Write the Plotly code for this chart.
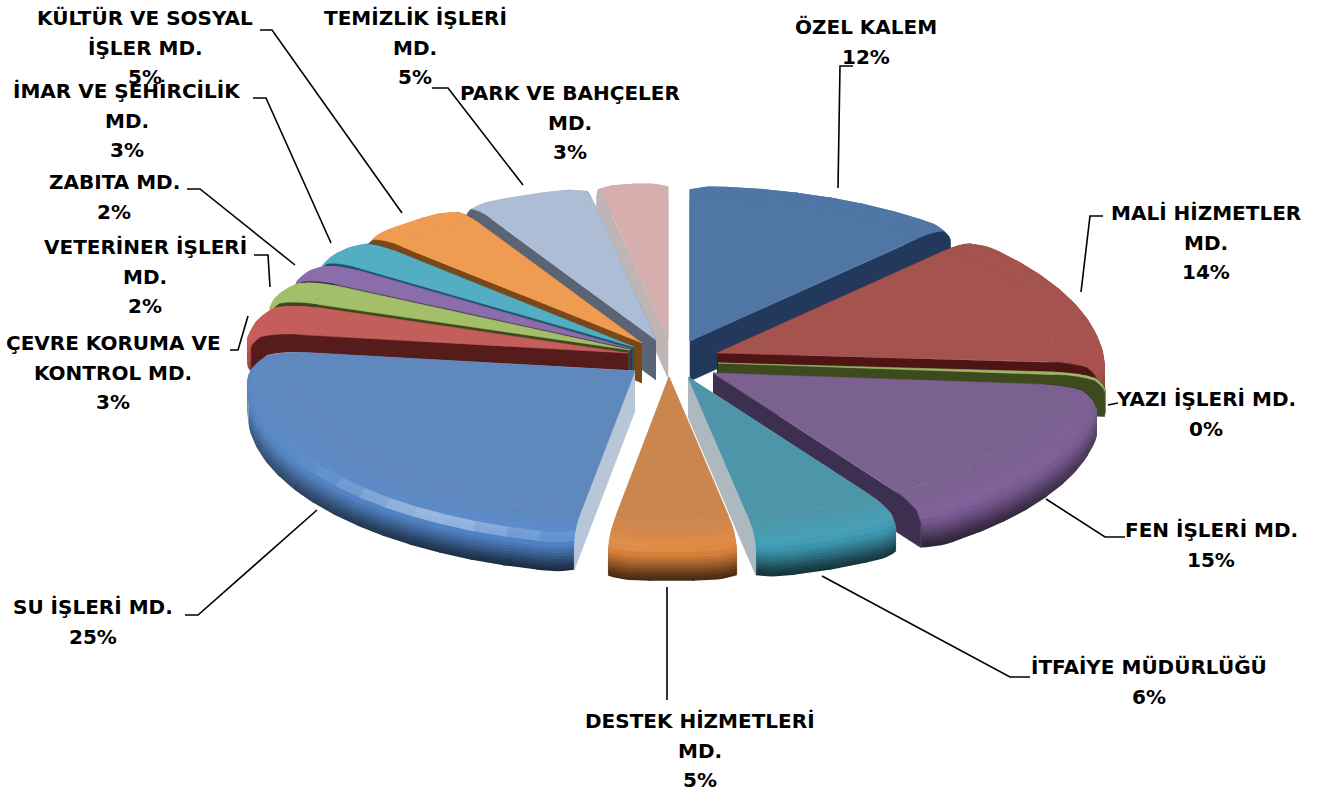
import math
import plotly.graph_objects as go

# ---- data, clockwise from 12 o'clock
categories = ["ÖZEL KALEM", "MALİ HİZMETLER MD.", "YAZI İŞLERİ MD.", "FEN İŞLERİ MD.", "İTFAİYE MÜDÜRLÜĞÜ",
              "DESTEK HİZMETLERİ MD.", "SU İŞLERİ MD.", "ÇEVRE KORUMA VE KONTROL MD.", "VETERİNER İŞLERİ MD.",
              "ZABITA MD.", "İMAR VE ŞEHİRCİLİK MD.", "KÜLTÜR VE SOSYAL İŞLER MD.", "TEMİZLİK İŞLERİ MD.",
              "PARK VE BAHÇELER MD."]
values = [12.0, 14.0, 0.3, 14.5, 6.35, 5.4, 24.55, 3.2, 2.3, 1.9, 2.6, 4.6, 5.3, 3.0]

# ---- style
top_colors = ["#4f76a5", "#a5534f", "#9cb56a", "#7a618f", "#4d95a8", "#cb864e", "#5f88bd",
              "#c45e5a", "#a3bf6a", "#8b6dab", "#53aec4", "#f09b52", "#aebdd6", "#d6aeae"]
wall_colors = ["#23395b", "#4f1414", "#3d4a1d", "#3d2f4f", "#aeb9bf", "#a8906f", "#b7c6d9",
               "#561c1c", "#3d4a1d", "#3d2f4f", "#1f5566", "#7a4716", "#5a6474", "#bfb5b5"]
explode_x = [25, 52, 53, 48, 23, 4, -30, -37, -35, -33, -31, -23, -9, 3]
explode_y = [-19, -7, 3, 13, 17, 17, 11, -7, -10, -11, -13, -17, -20, -22]
label_lines = [
    ["ÖZEL KALEM", "12%"], ["MALİ HİZMETLER", "MD.", "14%"], ["YAZI İŞLERİ MD.", "0%"],
    ["FEN İŞLERİ MD.", "15%"], ["İTFAİYE MÜDÜRLÜĞÜ", "6%"], ["DESTEK HİZMETLERİ", "MD.", "5%"],
    ["SU İŞLERİ MD.", "25%"], ["ÇEVRE KORUMA VE", "KONTROL MD.", "3%"], ["VETERİNER İŞLERİ", "MD.", "2%"],
    ["ZABITA MD.", "2%"], ["İMAR VE ŞEHİRCİLİK", "MD.", "3%"], ["KÜLTÜR VE SOSYAL", "İŞLER MD.", "5%"],
    ["TEMİZLİK İŞLERİ", "MD.", "5%"], ["PARK VE BAHÇELER", "MD.", "3%"]]
label_cx = [866, 1206, 1206, 1211, 1149, 700, 93, 113, 145, 114, 127, 145, 415, 570]
label_y0 = [27, 213, 399, 530, 667, 721, 607, 343, 247, 182, 91, 18, 18, 93]
leader_x = [[853, 840, 838], [1103, 1090, 1081], [1118, 1108], [1125, 1105, 1046], [1030, 1010, 822], [667, 667],
            [185, 198, 317], [230, 238, 248], [254, 268, 270], [187, 200, 295], [253, 266, 331], [260, 272, 402],
            [432, 448, 523], []]
leader_y = [[66, 66, 188], [216, 216, 292], [403, 405], [537, 537, 499], [677, 677, 576], [700, 587],
            [615, 615, 510], [350, 350, 316], [255, 255, 287], [189, 189, 265], [98, 98, 243], [30, 30, 213],
            [88, 88, 185], []]

CX, CY = 665, 360
RX, RY = 388, 164
DEPTH = 40
CORNER_CUT, CORNER_SPAN = 0.02, 0.07
SECTOR = math.radians(5)
OVERLAP = 0.006
# rounded rim: radius fraction, drop in px, shade (negative = toward black, positive = toward white)
profile_r = [0.87, 0.90, 0.93, 0.955, 0.975, 0.985, 0.995, 1.0, 1.0, 1.0, 1.0, 1.0, 1.0, 1.0, 1.0, 1.0, 1.0]
profile_z = [0, 0.5, 1.5, 3, 5, 8, 12, 16, 19, 22, 25, 28, 30.5, 33, 35.5, 38, 40]
profile_s = [0.0, 0.01, 0.02, 0.03, 0.05, 0.06, 0.0, -0.08, -0.15, -0.23, -0.31, -0.40, -0.48, -0.55, -0.61,
             -0.66, -0.70]
RIM_SATURATION = 0.3
SATURATION_RAMP = 4
HILITE_BANDS, HILITE_DEG, HILITE_WIDTH, HILITE_GAIN = (4, 5), 212, 16, 0.36


def shade(hexcol, s, sat=1.0):
    rgb = [int(hexcol[i:i + 2], 16) for i in (1, 3, 5)]
    mean = sum(rgb) / 3
    rgb = [min(255, max(0, mean + (c - mean) * sat)) for c in rgb]
    target = 255 if s > 0 else 0
    rgb = [round(c + (target - c) * abs(s)) for c in rgb]
    return "rgb({},{},{})".format(*rgb)


def poly(xs, ys, color, edge=0.6):
    return go.Scatter(x=xs, y=ys, mode="lines", fill="toself", fillcolor=color,
                      line=dict(color=color, width=edge), hoverinfo="skip", showlegend=False)


def corner_factor(a, a0, a1):
    if a1 - a0 < 0.1:
        return 1.0
    span = min(CORNER_SPAN, (a1 - a0) / 2)
    g = max(0.0, 1 - max(0.0, min(a - a0, a1 - a)) / span)
    return 1 - CORNER_CUT * g * g


def arc(ax, ay, lo, hi, a0, a1, r, z):
    steps = max(3, int(70 * (hi - lo)) + 2)
    angs = [lo + (hi - lo) * i / (steps - 1) for i in range(steps)]
    rs = [r * corner_factor(a, a0, a1) for a in angs]
    return ([ax + RX * q * math.sin(a) for a, q in zip(angs, rs)],
            [ay - RY * q * math.cos(a) + z for a, q in zip(angs, rs)])


def wall(ax, ay, a, a0, a1, color):
    q = corner_factor(a, a0, a1)
    xs = [ax] + [ax + RX * r * q * math.sin(a) for r in profile_r] + [ax]
    ys = [ay] + [ay - RY * r * q * math.cos(a) + z for r, z in zip(profile_r, profile_z)] + [ay + DEPTH]
    return poly(xs, ys, color)


def light(a):
    return max(0.0, -math.cos(a) + 0.3) / 1.3


def lit(s, a, band):
    front = -math.cos(a)
    if s > 0:
        s *= light(a)
    else:
        s *= 0.3 + 0.7 * max(0.0, front) ** 0.7
    if band in HILITE_BANDS:
        s += HILITE_GAIN * math.exp(-((math.degrees(a) - HILITE_DEG) / HILITE_WIDTH) ** 2)
    return s


fig = go.Figure()
total = sum(values)
edges = [0]
for v in values:
    edges.append(edges[-1] + v / total * 2 * math.pi)

order = sorted(range(len(values)), key=lambda i: -math.cos((edges[i] + edges[i + 1]) / 2))
for i in order:
    a0, a1 = edges[i], edges[i + 1]
    ax, ay = CX + explode_x[i], CY + explode_y[i]
    base = top_colors[i]
    start_seen = math.sin(a0) < -1e-6
    end_seen = math.sin(a1) > 1e-6
    if not start_seen:
        fig.add_trace(wall(ax, ay, a0, a0, a1, wall_colors[i]))
    if not end_seen:
        fig.add_trace(wall(ax, ay, a1, a0, a1, wall_colors[i]))
    # rim bands split into short sectors so the light can change round the pie, lowest band first;
    # each band reaches up under the one above it so no seam opens between them
    n_sec = max(1, int((a1 - a0) / SECTOR))
    for k in range(len(profile_r) - 2, -1, -1):
        up = max(k - 1, 0)
        for m in range(n_sec):
            lo = a0 + (a1 - a0) * m / n_sec
            hi = min(a1, a0 + (a1 - a0) * (m + 1) / n_sec + OVERLAP)
            mid = a0 + (a1 - a0) * (m + 0.5) / n_sec
            x1, y1 = arc(ax, ay, lo, hi, a0, a1, profile_r[up], profile_z[up])
            x2, y2 = arc(ax, ay, lo, hi, a0, a1, profile_r[k + 1], profile_z[k + 1])
            s = lit((profile_s[k] + profile_s[k + 1]) / 2, mid, k)
            sat = 1 + RIM_SATURATION * light(mid) * min(1.0, k / SATURATION_RAMP)
            fig.add_trace(poly(x1 + x2[::-1], y1 + y2[::-1], shade(base, s, sat), edge=0))
    if start_seen:
        fig.add_trace(wall(ax, ay, a0, a0, a1, wall_colors[i]))
    if end_seen:
        fig.add_trace(wall(ax, ay, a1, a0, a1, wall_colors[i]))
    # flat top
    xt, yt = arc(ax, ay, a0, a1, a0, a1, profile_r[0], 0)
    fig.add_trace(poly([ax] + xt + [ax], [ay] + yt + [ay], base))

for lx, ly in zip(leader_x, leader_y):
    if lx:
        fig.add_trace(go.Scatter(x=lx, y=ly, mode="lines", line=dict(color="black", width=1.6),
                                 hoverinfo="skip", showlegend=False))

for lines, cx, y0 in zip(label_lines, label_cx, label_y0):
    for j, t in enumerate(lines):
        fig.add_annotation(x=cx, y=y0 + j * 29.7, text=t, showarrow=False, xanchor="center", yanchor="middle",
                           font=dict(family="DejaVu Sans", size=20, color="black", weight="bold"))

fig.update_layout(width=1327, height=792, margin=dict(l=0, r=0, t=0, b=0), paper_bgcolor="white",
                  plot_bgcolor="white", showlegend=False,
                  xaxis=dict(range=[0, 1327], visible=False, fixedrange=True),
                  yaxis=dict(range=[792, 0], visible=False, fixedrange=True))
fig.write_html("out.html", config={"displayModeBar": False},
               post_script="document.body.style.margin='0';")
